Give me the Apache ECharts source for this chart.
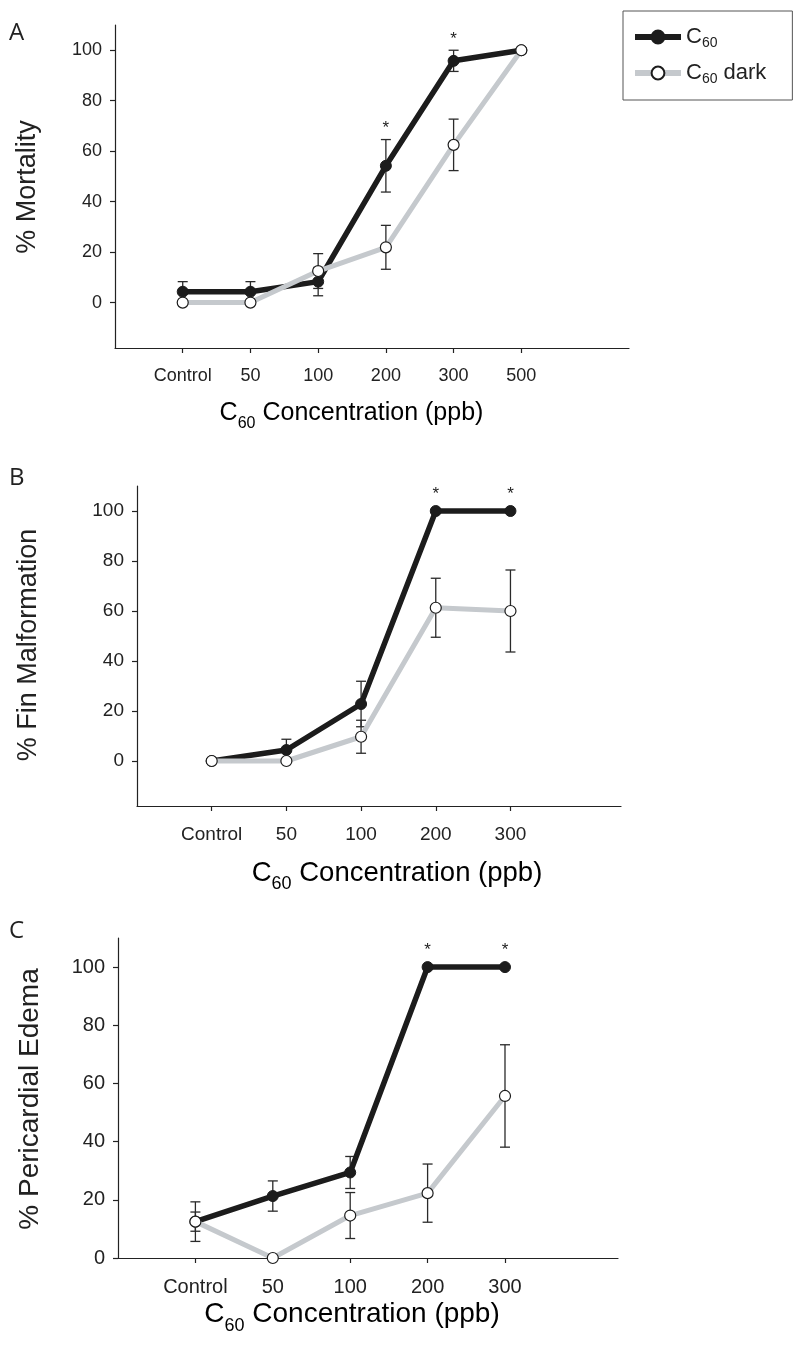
<!DOCTYPE html>
<html>
<head>
<meta charset="utf-8">
<script src="https://cdn.jsdelivr.net/npm/echarts@6/dist/echarts.min.js"></script>
</head>
<body style="margin:0;background:#fff">
<div id="main" style="width:800px;height:1351px"></div>
<script>
// categories
var catsA = ['Control', '50', '100', '200', '300', '500'];
var catsBC = ['Control', '50', '100', '200', '300'];

// A: % Mortality
var mortC60 = [4.3, 4.3, 8.3, 54.2, 95.8, 100];
var mortC60Err = [4.0, 4.0, 5.6, 10.4, 4.2, 0];
var mortDark = [0, 0, 12.5, 21.9, 62.5, 100];
var mortDarkErr = [0, 0, 6.9, 8.7, 10.2, 0];
var mortSig = [0, 0, 0, 1, 1, 0];

// B: % Fin Malformation
var finC60 = [0, 4.4, 22.8, 100, 100];
var finC60Err = [0, 4.3, 9.1, 0, 0];
var finDark = [0, 0, 9.7, 61.3, 60];
var finDarkErr = [0, 0, 6.6, 11.8, 16.4];
var finSig = [0, 0, 0, 1, 1];

// C: % Pericardial Edema
var edC60 = [12.5, 21.3, 29.4, 100, 100];
var edC60Err = [3.3, 5.2, 5.5, 0, 0];
var edDark = [12.5, 0, 14.6, 22.3, 55.7];
var edDarkErr = [6.8, 0, 7.9, 10, 17.6];
var edSig = [0, 0, 0, 1, 1];

var FONT = "'Liberation Sans', Arial, sans-serif";
var BLACK = '#1c1c1c', GREY = '#c5c9cd', INK = '#222';

var panels = [
  { cats: catsA, c60: mortC60, c60e: mortC60Err, dk: mortDark, dke: mortDarkErr, sig: mortSig,
    grid: { left: 115, top: 25, width: 514, height: 323 }, ymin: -18, xmax: 6.59, yfs: 18, xfs: 18,
    ytitle: '% Mortality', yt: [28, 187, 27], xt: [351.5, 413, 25], letter: ['A', 9, 33] },
  { cats: catsBC, c60: finC60, c60e: finC60Err, dk: finDark, dke: finDarkErr, sig: finSig,
    grid: { left: 137, top: 486, width: 484, height: 320 }, ymin: -18, xmax: 5.48, yfs: 19, xfs: 19,
    ytitle: '% Fin Malformation', yt: [29, 645, 27], xt: [397, 873, 27.5], letter: ['B', 9, 478] },
  { cats: catsBC, c60: edC60, c60e: edC60Err, dk: edDark, dke: edDarkErr, sig: edSig,
    grid: { left: 118, top: 938, width: 500, height: 320 }, ymin: 0, xmax: 5.46, yfs: 20, xfs: 20,
    ytitle: '% Pericardial Edema', yt: [30, 1099, 28], xt: [352, 1314, 28], letter: ['C', 9, 931] }
];

function errRender(params, api) {
  var x = api.value(0), lo = api.value(1), hi = api.value(2);
  var p1 = api.coord([x, hi]), p2 = api.coord([x, lo]);
  var w = 5;
  var st = { stroke: '#2a2a2a', lineWidth: 1.3 };
  return { type: 'group', children: [
    { type: 'line', shape: { x1: p1[0], y1: p1[1], x2: p2[0], y2: p2[1] }, style: st },
    { type: 'line', shape: { x1: p1[0] - w, y1: p1[1], x2: p1[0] + w, y2: p1[1] }, style: st },
    { type: 'line', shape: { x1: p2[0] - w, y1: p2[1], x2: p2[0] + w, y2: p2[1] }, style: st }
  ]};
}

function starRender(params, api) {
  var x = api.value(0), v = api.value(1), e = api.value(2);
  var pt = api.coord([x, v]);
  var top = e > 0 ? api.coord([x, v + e])[1] : pt[1] - 5.5;
  return { type: 'text', style: { text: '*', x: pt[0], y: top - 11, align: 'center', verticalAlign: 'middle',
    font: '17px ' + FONT, fill: INK } };
}

function rich(fs) {
  return {
    m: { fontSize: fs, fontFamily: FONT, color: INK, lineHeight: fs + 4 },
    s: { fontSize: Math.round(fs * 0.64), fontFamily: FONT, color: INK, lineHeight: Math.round(fs * 0.64),
         padding: [Math.round(fs * 0.84), 0, 0, 0] }
  };
}

var grids = [], xAxes = [], yAxes = [], series = [], graphics = [];
panels.forEach(function (p, k) {
  grids.push(Object.assign({ outerBoundsMode: 'none', containLabel: false }, p.grid));
  var idx = p.cats.map(function (c, i) { return i; });
  var cats = p.cats;
  xAxes.push({
    type: 'value', gridIndex: k, min: -1, max: p.xmax,
    axisLine: { onZero: false, lineStyle: { color: INK, width: 1.2 } },
    axisTick: { show: true, customValues: idx, length: 5, inside: false, lineStyle: { color: INK, width: 1.2 } },
    axisLabel: { customValues: idx, margin: 19, fontSize: p.xfs, fontFamily: FONT, color: INK,
      formatter: function (v) { return cats[Math.round(v)]; } },
    splitLine: { show: false }
  });
  var yt = [0, 20, 40, 60, 80, 100];
  yAxes.push({
    type: 'value', gridIndex: k, min: p.ymin, max: 110,
    axisLine: { show: true, onZero: false, lineStyle: { color: INK, width: 1.2 } },
    axisTick: { show: true, customValues: yt, length: 5, lineStyle: { color: INK, width: 1.2 } },
    axisLabel: { customValues: yt, margin: 13, fontSize: p.yfs, fontFamily: FONT, color: INK },
    splitLine: { show: false }
  });

  function pts(arr) { return arr.map(function (v, i) { return [i, v]; }); }
  function errs(vals, es) {
    var out = [];
    vals.forEach(function (v, i) { if (es[i] > 0) out.push([i, v - es[i], v + es[i]]); });
    return out;
  }
  series.push({ type: 'custom', xAxisIndex: k, yAxisIndex: k, renderItem: errRender, z: 1, clip: false,
    silent: true, data: errs(p.c60, p.c60e) });
  series.push({ type: 'custom', xAxisIndex: k, yAxisIndex: k, renderItem: errRender, z: 1, clip: false,
    silent: true, data: errs(p.dk, p.dke) });
  series.push({
    name: 'C60', type: 'line', xAxisIndex: k, yAxisIndex: k, data: pts(p.c60), z: 2,
    symbol: 'circle', symbolSize: 11, showAllSymbol: true,
    lineStyle: { color: BLACK, width: 5.5 }, itemStyle: { color: BLACK, borderColor: BLACK, borderWidth: 1 }
  });
  series.push({
    name: 'C60 dark', type: 'line', xAxisIndex: k, yAxisIndex: k, data: pts(p.dk), z: 3,
    symbol: 'circle', symbolSize: 11, showAllSymbol: true,
    lineStyle: { color: GREY, width: 5 }, itemStyle: { color: '#fff', borderColor: BLACK, borderWidth: 1.2 }
  });
  var stars = [];
  p.sig.forEach(function (s, i) { if (s) stars.push([i, p.c60[i], p.c60e[i]]); });
  series.push({ type: 'custom', xAxisIndex: k, yAxisIndex: k, renderItem: starRender, z: 4, clip: false,
    silent: true, data: stars });

  graphics.push({ type: 'text', x: p.letter[1], y: p.letter[2], style: { text: p.letter[0],
    font: "24px 'Open Sans', sans-serif", fill: INK, verticalAlign: 'middle' } });
  graphics.push({ type: 'text', x: p.yt[0], y: p.yt[1], rotation: Math.PI / 2, style: { text: p.ytitle,
    font: p.yt[2] + 'px ' + FONT, fill: INK, align: 'center', verticalAlign: 'middle' } });
  graphics.push({ type: 'text', x: p.xt[0], y: p.xt[1], style: {
    text: '{m|C}{s|60}{m| Concentration (ppb)}', rich: rich(p.xt[2]), align: 'center', verticalAlign: 'middle' } });
});

var chart = echarts.init(document.getElementById('main'), null, { renderer: 'canvas' });
chart.setOption({
  backgroundColor: '#fff',
  animation: false,
  grid: grids,
  xAxis: xAxes,
  yAxis: yAxes,
  legend: {
    orient: 'vertical', left: 623, top: 11,
    padding: [13, 26, 14, 9],
    itemWidth: 46, itemHeight: 16, itemGap: 10,
    borderColor: '#555', borderWidth: 1, borderRadius: 0,
    selectedMode: false,
    lineStyle: { width: 6 },
    data: ['C60', 'C60 dark'],
    formatter: function (n) { return n === 'C60' ? '{m|C}{s|60}' : '{m|C}{s|60}{m| dark}'; },
    textStyle: { rich: {
      m: { fontSize: 22, fontFamily: FONT, color: INK, lineHeight: 26 },
      s: { fontSize: 14, fontFamily: FONT, color: INK, lineHeight: 14, padding: [12, 0, 0, 0] }
    } }
  },
  graphic: graphics,
  series: series
});
</script>
</body>
</html>
